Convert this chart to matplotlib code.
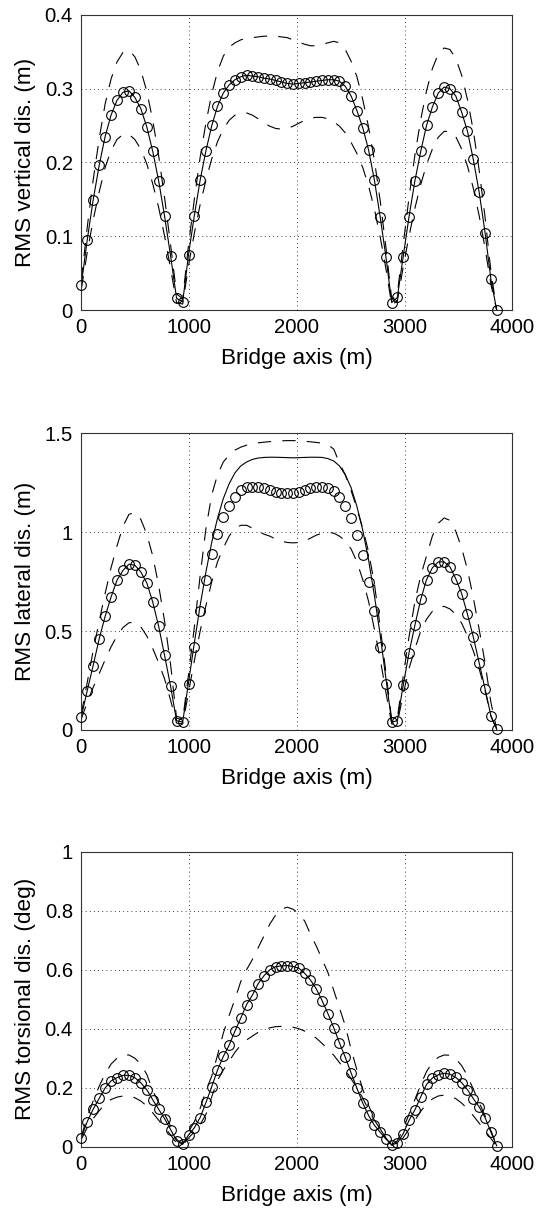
import matplotlib
matplotlib.use("Agg")
import matplotlib.pyplot as plt
from matplotlib.ticker import FuncFormatter

plt.rcParams['font.family'] = ['Liberation Sans', 'DejaVu Sans']

# Deck node positions along the bridge (m): side span, main span, side span
bridge_x = [0, 55, 110, 166, 221, 276, 331, 387, 442, 497, 552, 608, 663, 718, 773, 829, 884,
            941, 995, 1049, 1103, 1157, 1211, 1264, 1318, 1372, 1426, 1480, 1534, 1588, 1642, 1696,
            1750, 1803, 1857, 1911, 1965, 2019, 2073, 2127, 2181, 2235, 2289, 2343, 2396, 2450,
            2504, 2558, 2612, 2666, 2720, 2774, 2827, 2881,
            2933, 2987, 3041, 3096, 3150, 3204, 3258, 3313, 3367, 3421, 3475, 3530, 3584, 3638,
            3692, 3747, 3801, 3855]

# Vertical displacement RMS (m)
vert_sim = [0.034, 0.095, 0.149, 0.196, 0.235, 0.264, 0.284, 0.295, 0.297, 0.288, 0.273, 0.248, 0.215, 0.175, 0.127, 0.073, 0.016,
            0.011, 0.075, 0.128, 0.176, 0.216, 0.250, 0.276, 0.294, 0.305, 0.312, 0.316, 0.318, 0.317, 0.316, 0.314, 0.313, 0.311, 0.309, 0.307,
            0.306, 0.307, 0.308, 0.309, 0.310, 0.311, 0.312, 0.312, 0.310, 0.303, 0.290, 0.270, 0.247, 0.217, 0.176, 0.126, 0.072, 0.010,
            0.017, 0.072, 0.126, 0.175, 0.215, 0.250, 0.275, 0.294, 0.302, 0.300, 0.290, 0.268, 0.242, 0.204, 0.160, 0.105, 0.042, 0.000]
vert_mean = list(vert_sim)
vert_upper = [0.040, 0.112, 0.176, 0.232, 0.279, 0.313, 0.336, 0.349, 0.352, 0.343, 0.325, 0.296, 0.257, 0.209, 0.152, 0.088, 0.022,
              0.015, 0.088, 0.150, 0.207, 0.254, 0.293, 0.323, 0.344, 0.356, 0.362, 0.366, 0.368, 0.369, 0.370, 0.371, 0.371, 0.371, 0.370, 0.369,
              0.366, 0.363, 0.360, 0.358, 0.358, 0.360, 0.362, 0.364, 0.362, 0.353, 0.337, 0.316, 0.285, 0.248, 0.203, 0.148, 0.085, 0.014,
              0.022, 0.088, 0.152, 0.210, 0.258, 0.297, 0.327, 0.347, 0.355, 0.353, 0.341, 0.318, 0.285, 0.243, 0.190, 0.126, 0.053, 0.000]
vert_lower = [0.028, 0.078, 0.122, 0.160, 0.193, 0.216, 0.231, 0.238, 0.238, 0.231, 0.218, 0.198, 0.171, 0.139, 0.100, 0.056, 0.010,
              0.008, 0.060, 0.104, 0.143, 0.176, 0.205, 0.228, 0.245, 0.257, 0.264, 0.267, 0.267, 0.264, 0.259, 0.253, 0.249, 0.246, 0.245, 0.246,
              0.249, 0.253, 0.257, 0.260, 0.261, 0.261, 0.259, 0.255, 0.249, 0.240, 0.227, 0.212, 0.193, 0.168, 0.137, 0.099, 0.056, 0.007,
              0.012, 0.058, 0.100, 0.138, 0.170, 0.197, 0.218, 0.234, 0.242, 0.242, 0.235, 0.218, 0.195, 0.165, 0.128, 0.084, 0.035, 0.000]

# Lateral displacement RMS (m)
lat_sim = [0.068, 0.199, 0.326, 0.461, 0.574, 0.672, 0.757, 0.807, 0.838, 0.833, 0.799, 0.743, 0.647, 0.524, 0.377, 0.220, 0.047,
           0.039, 0.233, 0.422, 0.601, 0.757, 0.892, 0.990, 1.078, 1.132, 1.179, 1.213, 1.226, 1.230, 1.226, 1.221, 1.213, 1.204, 1.199, 1.196,
           1.199, 1.204, 1.213, 1.221, 1.226, 1.226, 1.221, 1.209, 1.179, 1.132, 1.074, 0.985, 0.883, 0.748, 0.601, 0.419, 0.233, 0.039,
           0.047, 0.225, 0.389, 0.530, 0.660, 0.760, 0.820, 0.850, 0.850, 0.825, 0.765, 0.690, 0.585, 0.470, 0.340, 0.208, 0.073, 0.003]
lat_mean = [0.068, 0.199, 0.326, 0.461, 0.574, 0.672, 0.757, 0.807, 0.838, 0.833, 0.799, 0.743, 0.647, 0.524, 0.377, 0.220, 0.047,
            0.040, 0.240, 0.440, 0.630, 0.800, 0.950, 1.070, 1.170, 1.245, 1.300, 1.335, 1.355, 1.368, 1.375, 1.378, 1.379, 1.379, 1.378, 1.377,
            1.376, 1.377, 1.378, 1.379, 1.379, 1.378, 1.372, 1.360, 1.335, 1.290, 1.225, 1.130, 1.010, 0.860, 0.680, 0.480, 0.260, 0.040,
            0.047, 0.225, 0.389, 0.530, 0.660, 0.760, 0.820, 0.850, 0.850, 0.825, 0.765, 0.690, 0.585, 0.470, 0.340, 0.208, 0.073, 0.003]
lat_upper = [0.080, 0.240, 0.400, 0.550, 0.690, 0.820, 0.930, 1.030, 1.090, 1.100, 1.065, 0.990, 0.880, 0.730, 0.550, 0.330, 0.060,
             0.050, 0.280, 0.520, 0.780, 1.020, 1.190, 1.290, 1.355, 1.390, 1.415, 1.430, 1.440, 1.448, 1.452, 1.455, 1.458, 1.460, 1.462, 1.463,
             1.463, 1.462, 1.460, 1.457, 1.454, 1.450, 1.442, 1.420, 1.350, 1.290, 1.210, 1.120, 1.020, 0.900, 0.740, 0.520, 0.290, 0.050,
             0.060, 0.270, 0.470, 0.650, 0.780, 0.880, 0.980, 1.045, 1.072, 1.060, 1.005, 0.920, 0.810, 0.670, 0.510, 0.340, 0.140, 0.005]
lat_lower = [0.055, 0.140, 0.215, 0.285, 0.355, 0.420, 0.475, 0.518, 0.542, 0.545, 0.522, 0.475, 0.412, 0.340, 0.258, 0.150, 0.035,
             0.030, 0.190, 0.350, 0.500, 0.630, 0.750, 0.850, 0.920, 0.980, 1.020, 1.035, 1.035, 1.020, 1.005, 0.990, 0.980, 0.965, 0.955, 0.948,
             0.946, 0.948, 0.955, 0.970, 0.985, 0.995, 1.000, 0.995, 0.980, 0.955, 0.915, 0.850, 0.760, 0.650, 0.510, 0.360, 0.190, 0.030,
             0.035, 0.180, 0.310, 0.410, 0.500, 0.560, 0.600, 0.620, 0.625, 0.612, 0.585, 0.540, 0.475, 0.400, 0.310, 0.200, 0.070, 0.002]

# Torsional displacement RMS (deg)
tor_sim = [0.031, 0.085, 0.127, 0.164, 0.199, 0.223, 0.234, 0.242, 0.242, 0.234, 0.217, 0.193, 0.159, 0.127, 0.095, 0.058, 0.020,
           0.008, 0.040, 0.064, 0.099, 0.150, 0.204, 0.260, 0.306, 0.344, 0.392, 0.436, 0.482, 0.514, 0.553, 0.580, 0.600, 0.610, 0.613, 0.614,
           0.611, 0.605, 0.588, 0.565, 0.535, 0.495, 0.451, 0.403, 0.352, 0.303, 0.250, 0.198, 0.148, 0.106, 0.073, 0.049, 0.026, 0.007,
           0.012, 0.044, 0.089, 0.125, 0.169, 0.211, 0.233, 0.244, 0.249, 0.246, 0.235, 0.217, 0.193, 0.163, 0.135, 0.099, 0.050, 0.003]
tor_mean = list(tor_sim)
tor_upper = [0.035, 0.100, 0.155, 0.205, 0.247, 0.280, 0.300, 0.311, 0.311, 0.300, 0.280, 0.245, 0.190, 0.150, 0.110, 0.070, 0.025,
             0.010, 0.050, 0.085, 0.130, 0.190, 0.240, 0.310, 0.385, 0.445, 0.500, 0.560, 0.600, 0.635, 0.675, 0.715, 0.755, 0.785, 0.805, 0.812,
             0.805, 0.790, 0.765, 0.720, 0.680, 0.635, 0.590, 0.530, 0.470, 0.410, 0.330, 0.260, 0.195, 0.140, 0.095, 0.060, 0.030, 0.006,
             0.020, 0.060, 0.110, 0.160, 0.210, 0.255, 0.285, 0.303, 0.311, 0.310, 0.298, 0.275, 0.240, 0.195, 0.150, 0.105, 0.055, 0.005]
tor_lower = [0.025, 0.065, 0.095, 0.122, 0.145, 0.160, 0.168, 0.172, 0.172, 0.166, 0.155, 0.138, 0.115, 0.090, 0.065, 0.040, 0.012,
             0.005, 0.030, 0.050, 0.075, 0.110, 0.170, 0.225, 0.260, 0.290, 0.320, 0.345, 0.362, 0.375, 0.388, 0.397, 0.403, 0.407, 0.408, 0.408,
             0.405, 0.400, 0.392, 0.382, 0.368, 0.350, 0.330, 0.310, 0.285, 0.260, 0.230, 0.200, 0.165, 0.125, 0.090, 0.060, 0.030, 0.005,
             0.008, 0.030, 0.060, 0.090, 0.120, 0.145, 0.162, 0.172, 0.175, 0.172, 0.163, 0.148, 0.128, 0.105, 0.080, 0.055, 0.028, 0.002]

x_ticks = [0, 1000, 2000, 3000, 4000]
x_label = 'Bridge axis (m)'

panels = [
    dict(rect=[0.1489, 0.7438, 0.7894, 0.2440], sim=vert_sim, mean=vert_mean,
         upper=vert_upper, lower=vert_lower, ylim=(0, 0.4),
         yticks=[0, 0.1, 0.2, 0.3, 0.4], ylabel='RMS vertical dis. (m)'),
    dict(rect=[0.1489, 0.3967, 0.7894, 0.2452], sim=lat_sim, mean=lat_mean,
         upper=lat_upper, lower=lat_lower, ylim=(0, 1.5),
         yticks=[0, 0.5, 1, 1.5], ylabel='RMS lateral dis. (m)'),
    dict(rect=[0.1489, 0.0523, 0.7894, 0.2438], sim=tor_sim, mean=tor_mean,
         upper=tor_upper, lower=tor_lower, ylim=(0, 1),
         yticks=[0, 0.2, 0.4, 0.6, 0.8, 1], ylabel='RMS torsional dis. (deg)'),
]

fig = plt.figure(figsize=(5.46, 12.10), dpi=100)
fmt = FuncFormatter(lambda v, p: f'{v:g}')

for p in panels:
    ax = fig.add_axes(p['rect'])
    ax.plot(bridge_x, p['upper'], color='k', lw=0.8, dashes=(12, 10))
    ax.plot(bridge_x, p['lower'], color='k', lw=0.8, dashes=(12, 10))
    ax.plot(bridge_x, p['mean'], color='k', lw=0.8)
    ax.plot(bridge_x, p['sim'], linestyle='none', marker='o', ms=7,
            mfc='none', mec='k', mew=0.8, clip_on=False, zorder=3)
    ax.set_xlim(0, 4000)
    ax.set_ylim(*p['ylim'])
    ax.set_xticks(x_ticks)
    ax.set_yticks(p['yticks'])
    ax.xaxis.set_major_formatter(fmt)
    ax.yaxis.set_major_formatter(fmt)
    ax.grid(True, color='k', linestyle=(0, (1, 4)), lw=0.6)
    ax.tick_params(direction='in', length=0, labelsize=14.6, colors='k')
    ax.tick_params(axis='x', pad=6)
    ax.tick_params(axis='y', pad=6)
    for s in ax.spines.values():
        s.set_linewidth(0.8)
        s.set_color('#333333')
    ax.set_xlabel(x_label, fontsize=16.2, labelpad=8)
    ax.set_ylabel(p['ylabel'], fontsize=16.2, labelpad=6)

fig.savefig('out.png', dpi=100)
